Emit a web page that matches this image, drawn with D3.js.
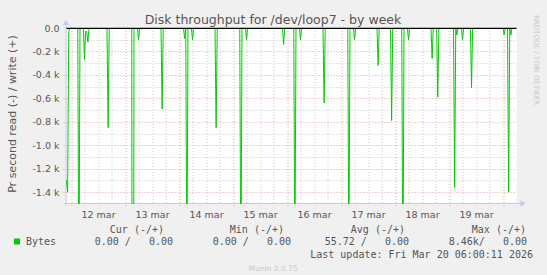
<!DOCTYPE html>
<html>
<head>
<meta charset="utf-8">
<script src="https://cdn.jsdelivr.net/npm/d3@7"></script>
<style>
body { margin: 0; background: #f0f0f0; }
svg text { font-family: "DejaVu Sans"; }
svg text.mono { font-family: "DejaVu Sans Mono"; white-space: pre; }
</style>
</head>
<body>
<div id="chart"></div>
<script>
// read series (bytes/s, drawn negative), 30 min samples around each burst
var readTimes = [
  "2026-03-11 22:00", "2026-03-11 22:30", "2026-03-11 23:00", "2026-03-11 23:30",
  "2026-03-12 03:00", "2026-03-12 03:30", "2026-03-12 04:00",
  "2026-03-12 05:30", "2026-03-12 06:00", "2026-03-12 06:30", "2026-03-12 07:00", "2026-03-12 07:30", "2026-03-12 08:00",
  "2026-03-12 16:00", "2026-03-12 16:30", "2026-03-12 17:00",
  "2026-03-13 03:00", "2026-03-13 03:30", "2026-03-13 04:00",
  "2026-03-13 05:30", "2026-03-13 06:00", "2026-03-13 06:30",
  "2026-03-13 16:00", "2026-03-13 16:30", "2026-03-13 17:00",
  "2026-03-14 02:00", "2026-03-14 02:30", "2026-03-14 03:00", "2026-03-14 03:30", "2026-03-14 04:00",
  "2026-03-14 05:30", "2026-03-14 06:00", "2026-03-14 06:30",
  "2026-03-14 16:00", "2026-03-14 16:30", "2026-03-14 17:00",
  "2026-03-15 03:00", "2026-03-15 03:30", "2026-03-15 04:00",
  "2026-03-15 05:30", "2026-03-15 06:00", "2026-03-15 06:30",
  "2026-03-15 22:00", "2026-03-15 22:30", "2026-03-15 23:00",
  "2026-03-16 03:00", "2026-03-16 03:30", "2026-03-16 04:00",
  "2026-03-16 05:30", "2026-03-16 06:00", "2026-03-16 06:30",
  "2026-03-16 16:00", "2026-03-16 16:30", "2026-03-16 17:00",
  "2026-03-17 03:00", "2026-03-17 03:30", "2026-03-17 04:00",
  "2026-03-17 05:30", "2026-03-17 06:00", "2026-03-17 06:30",
  "2026-03-17 16:00", "2026-03-17 16:30", "2026-03-17 17:00",
  "2026-03-17 22:00", "2026-03-17 22:30", "2026-03-17 23:00",
  "2026-03-18 03:00", "2026-03-18 03:30", "2026-03-18 04:00",
  "2026-03-18 05:30", "2026-03-18 06:00", "2026-03-18 06:30",
  "2026-03-18 16:00", "2026-03-18 16:30", "2026-03-18 17:00",
  "2026-03-18 18:30", "2026-03-18 19:00", "2026-03-18 19:30",
  "2026-03-19 02:00", "2026-03-19 02:30", "2026-03-19 03:00", "2026-03-19 03:30", "2026-03-19 04:00",
  "2026-03-19 05:30", "2026-03-19 06:00", "2026-03-19 06:30",
  "2026-03-19 09:30", "2026-03-19 10:00", "2026-03-19 10:30",
  "2026-03-20 00:00", "2026-03-20 00:30", "2026-03-20 01:00",
  "2026-03-20 02:00", "2026-03-20 02:30", "2026-03-20 03:00", "2026-03-20 03:30", "2026-03-20 04:00",
  "2026-03-20 06:00"
];
var readValues = [
  1300, 1400, 30, 0,
  0, 2400, 0,
  0, 270, 30, 30, 120, 0,
  0, 850, 0,
  0, 8460, 0,
  0, 100, 0,
  0, 690, 0,
  0, 90, 0, 2200, 0,
  0, 100, 0,
  0, 850, 0,
  0, 2300, 0,
  0, 100, 0,
  0, 140, 0,
  0, 2100, 0,
  0, 100, 0,
  0, 640, 0,
  0, 2000, 0,
  0, 100, 0,
  0, 320, 0,
  0, 790, 0,
  0, 2400, 0,
  0, 100, 0,
  0, 260, 0,
  0, 590, 0,
  0, 1360, 0, 60, 0,
  0, 100, 0,
  0, 510, 0,
  0, 60, 0,
  0, 1400, 0, 60, 0,
  0
];
var writeTimes = ["2026-03-11 22:00", "2026-03-20 06:00"];
var writeValues = [0, 0];

var yTickValues = [0, -200, -400, -600, -800, -1000, -1200, -1400];
var dayLabelTimes = ["2026-03-12 12:00", "2026-03-13 12:00", "2026-03-14 12:00", "2026-03-15 12:00",
                     "2026-03-16 12:00", "2026-03-17 12:00", "2026-03-18 12:00", "2026-03-19 12:00"];
var dayLabels = ["12 mar", "13 mar", "14 mar", "15 mar", "16 mar", "17 mar", "18 mar", "19 mar"];

var legendHeads = ["Cur (-/+)", "Min (-/+)", "Avg (-/+)", "Max (-/+)"];
var legendValues = ["0.00 /   0.00", "0.00 /   0.00", "55.72 /   0.00", "8.46k/   0.00"];

var W = 547, H = 275;
var margin = { top: 28, left: 66.5 },
    width = 450,
    height = 175;

var parse = d3.utcParse("%Y-%m-%d %H:%M");
var t0 = parse("2026-03-11 22:00"), t1 = parse("2026-03-20 06:00");

var x = d3.scaleUtc().domain([t0, t1]).range([0, width]);
var y = d3.scaleLinear().domain([-1492, 0]).range([height, 0]);

var svg = d3.select("#chart").append("svg")
    .attr("width", W)
    .attr("height", H);

svg.append("rect").attr("width", W).attr("height", H).attr("fill", "#f0f0f0");

var g = svg.append("g")
    .attr("transform", "translate(" + margin.left + "," + margin.top + ")");

g.append("rect")
    .attr("width", width)
    .attr("height", height)
    .attr("fill", "#ffffff");

function px(v) { return Math.round(v) + 0.5; }

// minor grid
var minorX = d3.utcHour.every(6).range(t0, t1).filter(function (d) { return d.getUTCHours() !== 0; });
g.selectAll(".vminor").data(minorX).enter().append("line")
    .attr("x1", function (d) { return px(x(d)); })
    .attr("x2", function (d) { return px(x(d)); })
    .attr("y1", 0).attr("y2", height)
    .attr("stroke", "#c8c8c8").attr("stroke-dasharray", "1,2");

var minorY = d3.range(-1400, 0, 100).filter(function (v) { return v % 200 !== 0; });
g.selectAll(".hminor").data(minorY).enter().append("line")
    .attr("x1", 0).attr("x2", width)
    .attr("y1", function (d) { return px(y(d)); })
    .attr("y2", function (d) { return px(y(d)); })
    .attr("stroke", "#c8c8c8").attr("stroke-dasharray", "1,2");

// major grid
var majorX = d3.utcDay.range(t0, t1);
g.selectAll(".vmajor").data(majorX).enter().append("line")
    .attr("x1", function (d) { return px(x(d)); })
    .attr("x2", function (d) { return px(x(d)); })
    .attr("y1", 0).attr("y2", height + 3)
    .attr("stroke", "#e8a0a0").attr("stroke-dasharray", "1,2");

g.selectAll(".hmajor").data(yTickValues.filter(function (v) { return v !== 0; })).enter().append("line")
    .attr("x1", -3).attr("x2", width)
    .attr("y1", function (d) { return px(y(d)); })
    .attr("y2", function (d) { return px(y(d)); })
    .attr("stroke", "#e8a0a0").attr("stroke-dasharray", "1,2");

// axes lines with arrows
var axisColor = "#c8c8f5";
g.append("line")
    .attr("x1", -0.5).attr("x2", -0.5)
    .attr("y1", height + 3).attr("y2", -4)
    .attr("stroke", axisColor);
g.append("path")
    .attr("d", "M-4,-3 L-0.5,-8 L3,-3 Z")
    .attr("fill", axisColor);
g.append("line")
    .attr("x1", -3).attr("x2", width + 5)
    .attr("y1", height + 0.5).attr("y2", height + 0.5)
    .attr("stroke", axisColor);
g.append("path")
    .attr("d", "M" + (width + 4) + "," + (height - 3) + " L" + (width + 9) + "," + (height + 0.5) + " L" + (width + 4) + "," + (height + 4) + " Z")
    .attr("fill", axisColor);

// data
g.append("clipPath").attr("id", "plotclip")
    .append("rect").attr("x", -1).attr("width", width + 1).attr("height", height + 1);

var readData = readTimes.map(function (t, i) { return { t: parse(t), v: -readValues[i] }; });
var writeData = writeTimes.map(function (t, i) { return { t: parse(t), v: writeValues[i] }; });

var line = d3.line()
    .x(function (d) { return x(d.t); })
    .y(function (d) { return y(d.v); });

g.append("path")
    .datum(readData)
    .attr("clip-path", "url(#plotclip)")
    .attr("fill", "none")
    .attr("stroke", "#00cc00")
    .attr("stroke-width", 1)
    .attr("d", line);

g.append("path")
    .datum(writeData)
    .attr("fill", "none")
    .attr("stroke", "#00cc00")
    .attr("d", line);

// zero rule
g.append("line")
    .attr("x1", 0).attr("x2", width)
    .attr("y1", px(y(0))).attr("y2", px(y(0)))
    .attr("stroke", "#000000");

// y tick labels
var yAxis = g.append("g")
    .call(d3.axisLeft(y).tickValues(yTickValues).tickSize(0).tickPadding(7)
        .tickFormat(function (v) { return v === 0 ? "0.0" : (v / 1000).toFixed(1) + " k"; }));
yAxis.select(".domain").remove();
yAxis.selectAll("text")
    .attr("fill", "#555555")
    .style("font-family", "DejaVu Sans")
    .style("font-size", "9.5px");

// x day labels
var xAxis = g.append("g")
    .attr("transform", "translate(0," + height + ")")
    .call(d3.axisBottom(x).tickValues(dayLabelTimes.map(parse)).tickSize(0).tickPadding(8)
        .tickFormat(function (d, i) { return dayLabels[i]; }));
xAxis.select(".domain").remove();
xAxis.selectAll("text")
    .attr("fill", "#555555")
    .style("font-family", "DejaVu Sans")
    .style("font-size", "9.5px");

// title
svg.append("text")
    .attr("x", 273)
    .attr("y", 24)
    .attr("text-anchor", "middle")
    .attr("fill", "#555555")
    .style("font-size", "12.5px")
    .text("Disk throughput for /dev/loop7 - by week");

// y label
svg.append("text")
    .attr("transform", "translate(16,114)rotate(-90)")
    .attr("text-anchor", "middle")
    .attr("fill", "#555555")
    .style("font-size", "11px")
    .text("Pr second read (-) / write (+)");

// watermark
svg.append("text")
    .attr("transform", "translate(534,15)rotate(90)")
    .attr("fill", "#c8c8c8")
    .style("font-size", "7px")
    .text("RRDTOOL / TOBI OETIKER");

// legend
var headEnds = [164, 284, 405, 526];
var valueEnds = [173, 291, 409, 527];
svg.selectAll(".lhead").data(legendHeads).enter().append("text")
    .attr("class", "mono")
    .attr("x", function (d, i) { return headEnds[i]; })
    .attr("y", 233)
    .attr("text-anchor", "end")
    .attr("fill", "#555555")
    .style("font-size", "10px")
    .text(function (d) { return d; });

svg.append("rect")
    .attr("x", 14).attr("y", 238.5)
    .attr("width", 6).attr("height", 6)
    .attr("fill", "#00cc00");
svg.append("text")
    .attr("class", "mono")
    .attr("x", 26).attr("y", 245)
    .attr("fill", "#555555")
    .style("font-size", "10px")
    .text("Bytes");

svg.selectAll(".lval").data(legendValues).enter().append("text")
    .attr("class", "mono")
    .attr("x", function (d, i) { return valueEnds[i]; })
    .attr("y", 245)
    .attr("text-anchor", "end")
    .attr("fill", "#555555")
    .style("font-size", "10px")
    .text(function (d) { return d; });

svg.append("text")
    .attr("class", "mono")
    .attr("x", 533).attr("y", 257.5)
    .attr("text-anchor", "end")
    .attr("fill", "#555555")
    .style("font-size", "10px")
    .text("Last update: Fri Mar 20 06:00:11 2026");

svg.append("text")
    .attr("x", 273).attr("y", 271)
    .attr("text-anchor", "middle")
    .attr("fill", "#c8c8c8")
    .style("font-size", "7.5px")
    .text("Munin 2.0.75");
</script>
</body>
</html>
